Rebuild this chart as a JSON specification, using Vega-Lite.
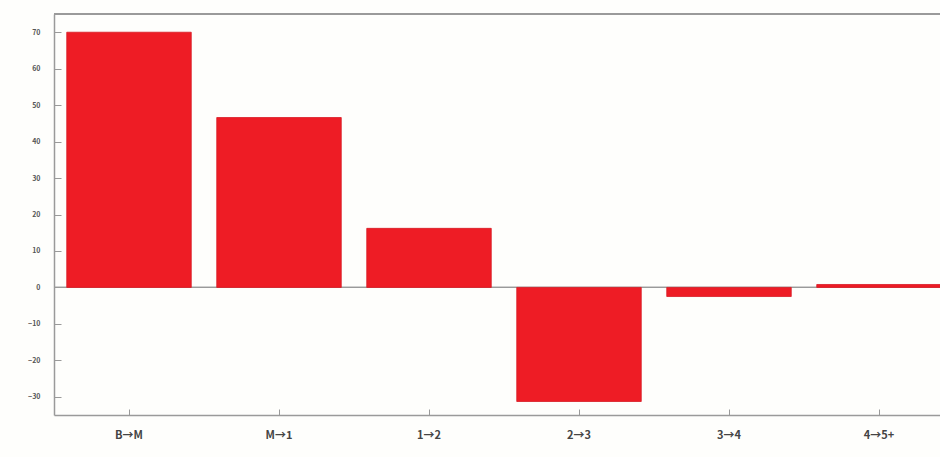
{
  "$schema": "https://vega.github.io/schema/vega-lite/v6.json",
  "autosize": "none",
  "padding": {"left": 54, "top": 14, "right": 0, "bottom": 42},
  "width": 886,
  "height": 401,
  "background": "#fefefc",
  "config": {"view": {"stroke": null}},
  "data": {"values": [
    {"step": "B→M", "value": 70},
    {"step": "M→1", "value": 46.6},
    {"step": "1→2", "value": 16.2},
    {"step": "2→3", "value": -31.3},
    {"step": "3→4", "value": -2.5},
    {"step": "4→5+", "value": 0.8}
  ]},
  "layer": [
    {
      "mark": {"type": "rule", "color": "#9a9a9a", "strokeWidth": 1},
      "encoding": {"y": {"datum": 0, "type": "quantitative"}}
    },
    {
      "mark": {"type": "rule", "color": "#9a9a9a", "strokeWidth": 1.5},
      "encoding": {"y": {"datum": 75, "type": "quantitative"}}
    },
    {
      "mark": {"type": "bar", "color": "#ee1c25", "stroke": "#d81a24", "strokeWidth": 0.8},
      "encoding": {
        "x": {
          "field": "step", "type": "nominal", "sort": null,
          "scale": {"range": [0, 900], "paddingInner": 0.17, "paddingOuter": 0.085},
          "axis": {
            "title": null, "labelAngle": 0, "domainColor": "#9a9a9a", "domainWidth": 1.5,
            "tickColor": "#9a9a9a", "tickSize": -6, "labelPadding": 20,
            "labelFont": "Noto Sans CJK JP", "labelFontSize": 11, "labelColor": "#444444", "labelFontWeight": "bold"
          }
        },
        "y": {
          "field": "value", "type": "quantitative",
          "scale": {"domain": [-35, 75], "nice": false, "zero": false},
          "axis": {
            "title": null, "values": [-30, -20, -10, 0, 10, 20, 30, 40, 50, 60, 70], "grid": false,
            "domainColor": "#9a9a9a", "domainWidth": 1.5, "tickColor": "#9a9a9a", "tickSize": -7,
            "labelPadding": 21, "labelFont": "Noto Sans CJK JP", "labelFontSize": 7,
            "labelColor": "#555555", "labelFontWeight": "bold"
          }
        }
      }
    }
  ]
}
